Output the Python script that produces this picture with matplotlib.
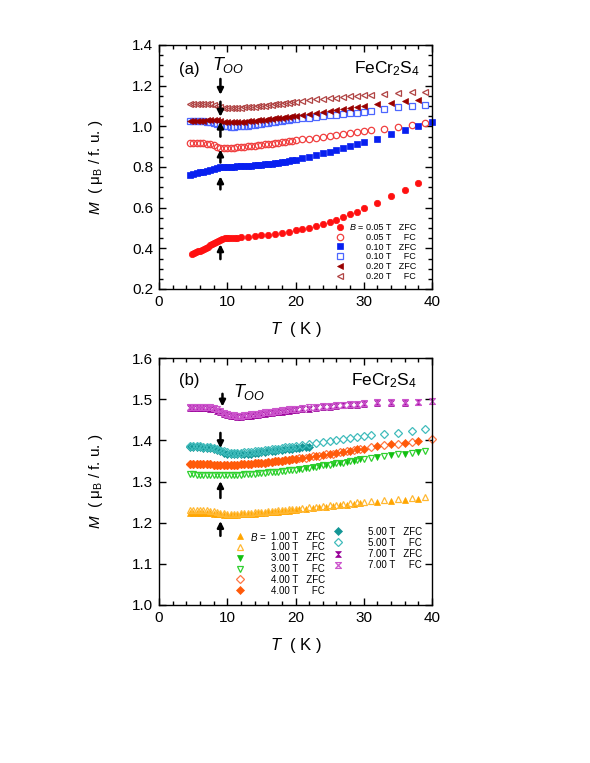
import matplotlib
matplotlib.use('Agg')
import matplotlib.pyplot as plt
from matplotlib.path import Path
from matplotlib.ticker import MultipleLocator, FormatStrFormatter

plt.rcParams['font.family'] = ['Liberation Sans', 'DejaVu Sans']
plt.rcParams['mathtext.fontset'] = 'custom'
plt.rcParams['mathtext.rm'] = 'Liberation Sans'
plt.rcParams['mathtext.it'] = 'Liberation Sans:italic'
plt.rcParams['mathtext.bf'] = 'Liberation Sans:bold'

# ---------------- data ----------------
T_dense = [4.5, 5.0, 5.5, 6.0, 6.5, 7.0, 7.5, 8.0, 8.5, 9.0, 9.5, 10.0, 10.5, 11.0, 11.5, 12.0,
           12.5, 13.0, 13.5, 14.0, 14.5, 15.0, 15.5, 16.0, 16.5, 17.0, 17.5, 18.0, 18.5, 19.0, 19.5, 20.0]

T_mid = [21, 22, 23, 24, 25, 26, 27, 28, 29, 30]
T_mid_half = [20.5, 21.5, 22.5, 23.5, 24.5, 25.5, 26.5, 27.5, 28.5, 29.5]
T_odd_tail = [31, 33, 35, 37, 39]
T_even_tail = [32, 34, 36, 38]

# panel (a)
T_a_zfc005 = [4.8, 5.1, 5.4, 5.7, 6.0, 6.3, 6.6, 6.9, 7.2, 7.5, 7.8, 8.1, 8.4, 8.7, 9.0, 9.3, 9.6, 9.9,
              10.3, 10.7, 11.1, 11.5, 12, 13, 14, 15, 16, 17, 18, 19, 20, 21, 22, 23, 24, 25, 26, 27,
              28, 29, 30, 32, 34, 36, 38]
M_a_zfc005 = [0.372, 0.376, 0.380, 0.385, 0.389, 0.394, 0.399, 0.404, 0.409, 0.414, 0.419, 0.425,
              0.431, 0.437, 0.443, 0.447, 0.449, 0.450, 0.451, 0.452, 0.453, 0.453, 0.454, 0.457,
              0.460, 0.464, 0.468, 0.472, 0.477, 0.482, 0.488, 0.494, 0.501, 0.510, 0.520, 0.530,
              0.541, 0.553, 0.567, 0.581, 0.597, 0.625, 0.657, 0.686, 0.719]

M_a_fc005 = [0.917, 0.917, 0.917, 0.917, 0.916, 0.915, 0.912, 0.906, 0.899, 0.894, 0.892, 0.892,
             0.893, 0.894, 0.896, 0.897, 0.899, 0.901, 0.903, 0.905, 0.907, 0.909, 0.911, 0.913,
             0.915, 0.917, 0.920, 0.922, 0.925, 0.927, 0.930, 0.932,
             0.936, 0.940, 0.944, 0.948, 0.952, 0.956, 0.960, 0.965, 0.970, 0.975,
             0.981, 0.989, 0.997, 1.006, 1.015]
T_a_fc005 = T_dense + T_mid + T_odd_tail

M_a_zfc010 = [0.762, 0.765, 0.769, 0.773, 0.777, 0.781, 0.786, 0.791, 0.796, 0.800, 0.801, 0.801,
              0.802, 0.802, 0.803, 0.804, 0.805, 0.806, 0.807, 0.809, 0.810, 0.812, 0.813, 0.815,
              0.817, 0.819, 0.821, 0.824, 0.826, 0.829, 0.832, 0.835,
              0.843, 0.851, 0.859, 0.867, 0.875, 0.884, 0.893, 0.902, 0.912, 0.922,
              0.940, 0.962, 0.981, 1.000, 1.020]
T_a_zfc010 = T_dense + T_mid + T_even_tail + [40]

M_a_fc010 = [1.025, 1.025, 1.025, 1.024, 1.024, 1.023, 1.021, 1.017, 1.012, 1.006, 1.002, 1.000,
             0.999, 0.999, 1.000, 1.001, 1.002, 1.004, 1.006, 1.008, 1.010, 1.012, 1.014, 1.016,
             1.019, 1.021, 1.024, 1.026, 1.029, 1.031, 1.034, 1.036,
             1.040, 1.043, 1.047, 1.050, 1.054, 1.057, 1.061, 1.064, 1.068, 1.072,
             1.077, 1.085, 1.094, 1.101, 1.106]
T_a_fc010 = T_dense + T_mid + T_odd_tail

M_a_zfc020 = [1.024, 1.025, 1.026, 1.027, 1.028, 1.029, 1.030, 1.030, 1.029, 1.026, 1.022, 1.020,
              1.019, 1.019, 1.020, 1.021, 1.022, 1.024, 1.025, 1.027, 1.029, 1.031, 1.033, 1.035,
              1.037, 1.039, 1.041, 1.043, 1.045, 1.047, 1.049, 1.051,
              1.056, 1.061, 1.066, 1.071, 1.076, 1.081, 1.086, 1.091, 1.096, 1.101,
              1.111, 1.117, 1.124, 1.131]
T_a_zfc020 = T_dense + T_mid + T_even_tail

M_a_fc020 = [1.112, 1.112, 1.112, 1.112, 1.111, 1.110, 1.108, 1.104, 1.099, 1.095, 1.092, 1.091,
             1.090, 1.090, 1.091, 1.092, 1.093, 1.094, 1.095, 1.097, 1.098, 1.100, 1.102, 1.104,
             1.106, 1.108, 1.110, 1.112, 1.114, 1.117, 1.119, 1.121,
             1.125, 1.128, 1.132, 1.135, 1.138, 1.141, 1.144, 1.147, 1.150, 1.153,
             1.156, 1.160, 1.164, 1.167, 1.171]
T_a_fc020 = T_dense + T_mid + T_odd_tail

# panel (b)
M_b_zfc1 = [1.224, 1.224, 1.224, 1.224, 1.224, 1.224, 1.223, 1.222, 1.221, 1.220, 1.219, 1.219,
            1.219, 1.219, 1.219, 1.220, 1.220, 1.221, 1.221, 1.222, 1.223, 1.223, 1.224, 1.225,
            1.225, 1.226, 1.227, 1.228, 1.228, 1.229, 1.230, 1.231,
            1.232, 1.234, 1.235, 1.237, 1.239, 1.241, 1.242, 1.244, 1.246, 1.247,
            1.250, 1.253, 1.256, 1.258]
T_b_zfc1 = T_dense + T_mid_half + T_even_tail

M_b_fc1 = [1.231, 1.231, 1.231, 1.231, 1.231, 1.230, 1.229, 1.228, 1.226, 1.224, 1.223, 1.222,
           1.222, 1.222, 1.222, 1.223, 1.223, 1.224, 1.224, 1.225, 1.226, 1.226, 1.227, 1.228,
           1.228, 1.229, 1.230, 1.231, 1.231, 1.232, 1.233, 1.234,
           1.235, 1.237, 1.238, 1.240, 1.242, 1.243, 1.245, 1.247, 1.249, 1.250,
           1.252, 1.255, 1.258, 1.260, 1.263]
T_b_fc1 = T_dense + T_mid + T_odd_tail

M_b_zfc3 = [1.330, 1.333, 1.335, 1.338, 1.340, 1.343, 1.345, 1.348, 1.351, 1.354,
            1.360, 1.364, 1.368, 1.371]
T_b_zfc3 = T_mid_half + T_even_tail

M_b_fc3 = [1.318, 1.318, 1.317, 1.317, 1.317, 1.317, 1.316, 1.316, 1.316, 1.316, 1.316, 1.316,
           1.316, 1.316, 1.317, 1.317, 1.318, 1.318, 1.319, 1.319, 1.320, 1.320, 1.321, 1.322,
           1.322, 1.323, 1.324, 1.325, 1.326, 1.327, 1.328, 1.329,
           1.331, 1.334, 1.336, 1.339, 1.341, 1.344, 1.346, 1.349, 1.352, 1.355,
           1.358, 1.362, 1.366, 1.369, 1.373]
T_b_fc3 = T_dense + T_mid + T_odd_tail

M_b_zfc4 = [1.342, 1.342, 1.342, 1.342, 1.342, 1.342, 1.342, 1.341, 1.341, 1.341, 1.341, 1.341,
            1.341, 1.341, 1.341, 1.342, 1.342, 1.343, 1.343, 1.344, 1.345, 1.346, 1.346, 1.347,
            1.348, 1.349, 1.350, 1.351, 1.352, 1.353, 1.354, 1.355,
            1.356, 1.358, 1.361, 1.363, 1.366, 1.368, 1.371, 1.374, 1.376, 1.379,
            1.383, 1.388, 1.392, 1.396, 1.403]
T_b_zfc4 = T_dense + T_mid_half + [31, 33, 35, 37, 40]

M_b_fc4 = [1.342, 1.342, 1.342, 1.342, 1.342, 1.342, 1.342, 1.341, 1.341, 1.341, 1.341, 1.341,
           1.341, 1.341, 1.341, 1.342, 1.342, 1.343, 1.343, 1.344, 1.345, 1.346, 1.346, 1.347,
           1.348, 1.349, 1.350, 1.351, 1.352, 1.353, 1.354, 1.355,
           1.357, 1.360, 1.362, 1.365, 1.367, 1.370, 1.372, 1.375, 1.378, 1.380,
           1.386, 1.390, 1.394, 1.398]
T_b_fc4 = T_dense + T_mid + T_even_tail

M_b_zfc5 = [1.383, 1.383, 1.383, 1.383, 1.382, 1.382, 1.381, 1.379, 1.376, 1.373, 1.370, 1.368,
            1.367, 1.366, 1.366, 1.366, 1.367, 1.367, 1.368, 1.369, 1.370, 1.371, 1.372, 1.373,
            1.374, 1.375, 1.376, 1.377, 1.378, 1.379, 1.380, 1.381,
            1.382, 1.383, 1.384, 1.385]
T_b_zfc5 = T_dense + [20.5, 21.0, 21.5, 22.0]

M_b_fc5 = [1.386, 1.386, 1.386, 1.386, 1.385, 1.385, 1.384, 1.382, 1.379, 1.376, 1.373, 1.371,
           1.370, 1.370, 1.370, 1.370, 1.371, 1.371, 1.372, 1.373, 1.374, 1.375, 1.376, 1.377,
           1.378, 1.379, 1.380, 1.382, 1.383, 1.384, 1.385, 1.386,
           1.389, 1.392, 1.394, 1.397, 1.399, 1.401, 1.404, 1.406, 1.408, 1.410,
           1.412, 1.415, 1.419, 1.423, 1.427]
T_b_fc5 = T_dense + T_mid + T_odd_tail

M_b_zfc7 = [1.478, 1.478, 1.478, 1.478, 1.478, 1.478, 1.477, 1.475, 1.472, 1.468, 1.464, 1.461,
            1.459, 1.458, 1.457, 1.457, 1.458, 1.459, 1.460, 1.461, 1.462, 1.464, 1.465, 1.466,
            1.467, 1.468, 1.469, 1.470, 1.471, 1.472, 1.473, 1.474,
            1.475, 1.477, 1.479, 1.481, 1.482, 1.484, 1.485, 1.486, 1.487, 1.488,
            1.490, 1.491, 1.491, 1.492]
T_b_zfc7 = T_dense + T_mid + T_even_tail

M_b_fc7 = [1.481, 1.481, 1.481, 1.481, 1.481, 1.481, 1.480, 1.478, 1.475, 1.471, 1.467, 1.464,
           1.462, 1.461, 1.460, 1.460, 1.461, 1.462, 1.463, 1.464, 1.465, 1.467, 1.468, 1.469,
           1.470, 1.471, 1.472, 1.473, 1.474, 1.475, 1.476, 1.477,
           1.478, 1.480, 1.482, 1.483, 1.484, 1.486, 1.487, 1.488, 1.489, 1.490,
           1.492, 1.493, 1.493, 1.494, 1.496]
T_b_fc7 = T_dense + T_mid + T_even_tail + [40]

labels_a = ["0.05 T   ZFC", "0.05 T     FC", "0.10 T   ZFC", "0.10 T     FC", "0.20 T   ZFC", "0.20 T     FC"]
labels_b = ["1.00 T   ZFC", "1.00 T     FC", "3.00 T   ZFC", "3.00 T     FC", "4.00 T   ZFC", "4.00 T     FC",
            "5.00 T   ZFC", "5.00 T     FC", "7.00 T   ZFC", "7.00 T     FC"]

# T_OO arrows: (T, tail M, head M)
arrows_a = [(9.0, 1.233, 1.155), (9.0, 1.121, 1.047), (9.0, 0.949, 1.023),
            (9.0, 0.822, 0.886), (9.0, 0.690, 0.754), (9.0, 0.347, 0.420)]
arrows_b = [(9.3, 1.513, 1.482), (9.0, 1.418, 1.381), (9.0, 1.260, 1.301), (9.0, 1.168, 1.204)]

# ---------------- styling ----------------
hourglass = Path([(-1, 1), (1, 1), (-1, -1), (1, -1), (-1, 1)],
                 [Path.MOVETO, Path.LINETO, Path.LINETO, Path.LINETO, Path.CLOSEPOLY])

series_a = [
    (T_a_zfc005, M_a_zfc005, 'o', '#FF1010', True, 4.6),
    (T_a_fc005, M_a_fc005, 'o', '#F04040', False, 4.6),
    (T_a_zfc010, M_a_zfc010, 's', '#0820F0', True, 4.3),
    (T_a_fc010, M_a_fc010, 's', '#4C66FF', False, 4.3),
    (T_a_zfc020, M_a_zfc020, '<', '#990000', True, 5.0),
    (T_a_fc020, M_a_fc020, '<', '#B04444', False, 5.0),
]
series_b = [
    (T_b_zfc1, M_b_zfc1, '^', '#FFA500', True, 4.8),
    (T_b_fc1, M_b_fc1, '^', '#FFB833', False, 4.8),
    (T_b_zfc3, M_b_zfc3, 'v', '#10C010', True, 4.8),
    (T_b_fc3, M_b_fc3, 'v', '#30D030', False, 4.8),
    (T_b_zfc4, M_b_zfc4, 'D', '#FF7744', False, 4.0),
    (T_b_fc4, M_b_fc4, 'D', '#FF5A0A', True, 4.0),
    (T_b_zfc5, M_b_zfc5, 'D', '#139696', True, 4.0),
    (T_b_fc5, M_b_fc5, 'D', '#40BCBC', False, 4.0),
    (T_b_zfc7, M_b_zfc7, hourglass, '#990099', True, 4.2),
    (T_b_fc7, M_b_fc7, hourglass, '#CC55CC', False, 4.2),
]

W, H = 590, 763
fig = plt.figure(figsize=(W / 100, H / 100), dpi=100)


def px_axes(l, r, t, b):
    return fig.add_axes([l / W, 1 - b / H, (r - l) / W, (b - t) / H])


ax_a = px_axes(159, 432, 45, 289)
ax_b = px_axes(159, 432, 358, 605)


def draw(ax, series):
    handles = []
    for T, M, mk, col, filled, ms in series:
        ln, = ax.plot(T, M, ls='none', marker=mk, ms=ms, clip_on=False,
                      mfc=col if filled else 'none', mec=col, mew=0.9 if not filled else 0.5)
        handles.append(ln)
    return handles


def style(ax, ylim, ymajor, yminor):
    ax.set_xlim(0, 40)
    ax.set_ylim(*ylim)
    ax.xaxis.set_major_locator(MultipleLocator(10))
    ax.xaxis.set_minor_locator(MultipleLocator(2))
    ax.yaxis.set_major_locator(MultipleLocator(ymajor))
    if yminor:
        ax.yaxis.set_minor_locator(MultipleLocator(yminor))
    ax.yaxis.set_major_formatter(FormatStrFormatter('%.1f'))
    ax.tick_params(which='both', direction='in', top=True, right=True, labelsize=11, width=1.0)
    ax.tick_params(which='major', length=5, pad=4)
    ax.tick_params(which='minor', length=3)
    for sp in ax.spines.values():
        sp.set_linewidth(1.0)
    ax.set_xlabel('$T$  ( K )', fontsize=12, labelpad=8)
    ax.set_ylabel('$M$  ( μ$_{\\mathregular{B}}$ / f. u. )', fontsize=11, labelpad=20)


def arrows(ax, arr):
    for T, m0, m1 in arr:
        ax.annotate('', xy=(T, m1), xytext=(T, m0),
                    arrowprops=dict(arrowstyle='-|>', color='k', lw=1.8, mutation_scale=9,
                                    shrinkA=0, shrinkB=0))


# ---- panel (a)
h_a = draw(ax_a, series_a)
style(ax_a, (0.2, 1.4), 0.2, 0.05)
arrows(ax_a, arrows_a)
ax_a.text(0.073, 0.881, '(a)', transform=ax_a.transAxes, fontsize=12, va='baseline')
ax_a.text(0.956, 0.884, 'FeCr$_2$S$_4$', transform=ax_a.transAxes, fontsize=12.5,
          ha='right', va='baseline')
ax_a.text(7.7, 1.278, '$T_{OO}$', fontsize=13, va='baseline')
leg_a = ax_a.legend(h_a, labels_a, loc='upper left', bbox_to_anchor=(0.6465, 0.2705),
                    frameon=False, fontsize=6.5, handlelength=1.0, handletextpad=2.4,
                    labelspacing=0.09, borderpad=0, borderaxespad=0)

# ---- panel (b)
h_b = draw(ax_b, series_b)
style(ax_b, (1.0, 1.6), 0.1, None)
arrows(ax_b, arrows_b)
ax_b.text(0.072, 0.891, '(b)', transform=ax_b.transAxes, fontsize=12, va='baseline')
ax_b.text(0.944, 0.891, 'FeCr$_2$S$_4$', transform=ax_b.transAxes, fontsize=12.5,
          ha='right', va='baseline')
ax_b.text(10.9, 1.505, '$T_{OO}$', fontsize=13, va='baseline')
leg_b1 = ax_b.legend(h_b[:6], labels_b[:6], loc='upper left', bbox_to_anchor=(0.278, 0.297),
                     frameon=False, fontsize=7, handlelength=1.0, handletextpad=2.7,
                     labelspacing=0.08, borderpad=0, borderaxespad=0)
ax_b.add_artist(leg_b1)
leg_b2 = ax_b.legend(h_b[6:], labels_b[6:], loc='upper left', bbox_to_anchor=(0.639, 0.317),
                     frameon=False, fontsize=7, handlelength=1.0, handletextpad=2.6,
                     labelspacing=0.12, borderpad=0, borderaxespad=0)

# "B =" prefix placed left of the first legend entry of each legend
fig.canvas.draw()
for leg, gap, fs in [(leg_a, 2.0, 6.5), (leg_b1, 4.5, 7)]:
    bb = leg.get_texts()[0].get_window_extent()
    fig.text((bb.x0 - gap) / fig.bbox.width, (bb.y0 + bb.y1) / 2 / fig.bbox.height,
             '$B$ =', ha='right', va='center', fontsize=fs)

fig.savefig('out.png', dpi=100)
